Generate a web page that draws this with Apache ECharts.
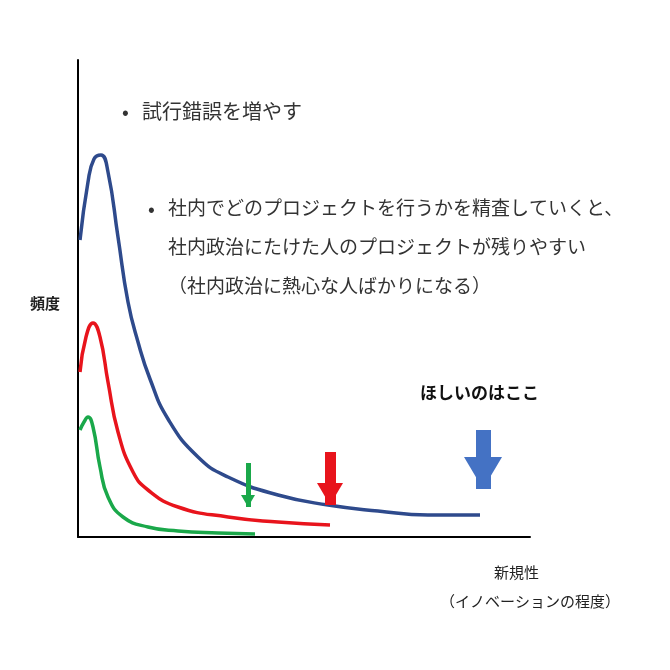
<!DOCTYPE html>
<html><head><meta charset="utf-8">
<script src="https://cdn.jsdelivr.net/npm/echarts@6/dist/echarts.min.js"></script>
<style>html,body{margin:0;padding:0;background:#fff}#c{width:670px;height:670px}</style>
</head><body><div id="c"></div>
<script>
const blue=[[2,297],[10,355],[16,378],[23,382],[30,365],[40,300],[50,235],[60,195],[72,158],[90,118],[120,80],[150,60],[200,42],[250,32],[300,26],[350,22],[402,22]];
const red=[[2,165],[8,200],[15,214],[22,200],[30,155],[40,105],[55,65],[70,47],[100,30],[150,20],[200,15],[252,12]];
const green=[[2,107],[6,115],[10,120],[15,110],[22,70],[30,40],[45,20],[70,10],[100,6],[140,4],[177,3]];
const arrows=[{x:170,y1:74,y2:30,c:'#1aa84a',w:5,s:[14,12]},{x:252,y1:85,y2:32,c:'#e8141c',w:11,s:[26,22]},{x:405,y1:107,y2:48,c:'#4472c4',w:15,s:[38,32]}];
const F='"Noto Sans CJK JP"';
const chart=echarts.init(document.getElementById('c'));
function line(d,c){return {type:'line',data:d,smooth:0.5,symbol:'none',lineStyle:{color:c,width:3.5},silent:true};}
const s=[line(blue,'#2e4a8c'),line(red,'#e8141c'),line(green,'#1aa84a')];
s.push({type:'line',data:[],markLine:{silent:true,animation:false,label:{show:false},data:arrows.map(a=>[{coord:[a.x,a.y1],symbol:'none',lineStyle:{color:a.c,width:a.w,type:'solid'}},{coord:[a.x,a.y2],symbol:'triangle',symbolSize:a.s,symbolRotate:180,symbolOffset:[0,a.s[1]/2]}])}});
const T=(x,y,t,o)=>Object.assign({type:'text',left:x,top:y,style:Object.assign({text:t,font:'20px '+F,fill:'#333'},o||{})});
chart.setOption({animation:false,
grid:{left:78,top:60,right:140,bottom:133},
xAxis:{type:'value',min:0,max:452,axisLine:{show:true,lineStyle:{color:'#000',width:2}},axisTick:{show:false},axisLabel:{show:false},splitLine:{show:false}},
yAxis:{type:'value',min:0,max:477,axisLine:{show:true,lineStyle:{color:'#000',width:2}},axisTick:{show:false},axisLabel:{show:false},splitLine:{show:false}},
series:s,
graphic:[T(122,101,'•'),T(142,101,'試行錯誤を増やす'),
T(148,198,'•'),T(168,198,'社内でどのプロジェクトを行うかを精査していくと、',{font:'19px '+F}),
T(168,237,'社内政治にたけた人のプロジェクトが残りやすい',{font:'19px '+F}),
T(168,276,'（社内政治に熱心な人ばかりになる）',{font:'19px '+F}),
T(30,296,'頻度',{font:'bold 15px '+F,fill:'#222'}),
T(420,384,'ほしいのはここ',{font:'bold 17px '+F,fill:'#111'}),
T(494,565,'新規性',{font:'15px '+F,fill:'#222'}),
T(440,594,'（イノベーションの程度）',{font:'15px '+F,fill:'#222'})]
});
</script></body></html>
